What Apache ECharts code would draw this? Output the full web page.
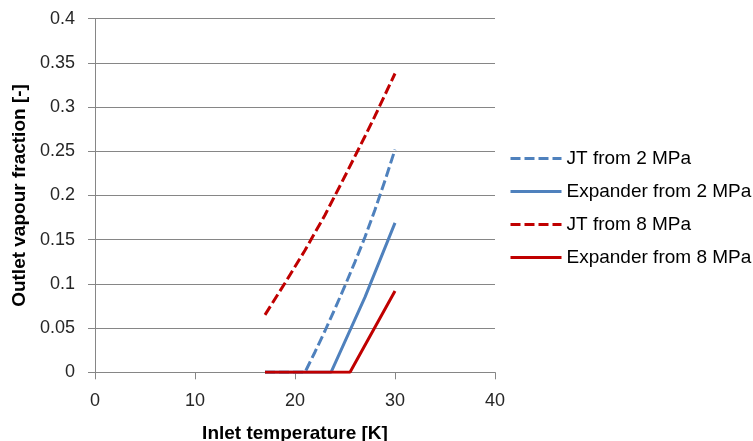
<!DOCTYPE html>
<html>
<head>
<meta charset="utf-8">
<script src="https://cdn.jsdelivr.net/npm/echarts@6/dist/echarts.min.js"></script>
<style>
  html, body { margin: 0; padding: 0; background: #fff; }
  #chart { width: 753px; height: 441px; }
</style>
</head>
<body>
<div id="chart"></div>
<script>
// inlet temperature [K] -> outlet vapour fraction [-]
const jt2Temp = [17, 21, 22, 23, 24, 25, 26, 27, 28, 29, 30]
const jt2Frac = [0, 0, 0.023, 0.047, 0.072, 0.098, 0.125, 0.153, 0.184, 0.217, 0.252]

const exp2Temp = [17, 23.6, 27, 30]
const exp2Frac = [0, 0, 0.085, 0.169]

const jt8Temp = [17, 19, 21, 23, 25, 27, 28, 29, 30]
const jt8Frac = [0.065, 0.101, 0.138, 0.178, 0.222, 0.267, 0.290, 0.314, 0.338]

const exp8Temp = [17, 25.5, 30]
const exp8Frac = [0, 0, 0.092]

const xTicks = [0, 10, 20, 30, 40]
const yTicks = [0, 0.05, 0.1, 0.15, 0.2, 0.25, 0.3, 0.35, 0.4]

const BLUE = '#4f81bd'
const RED = '#c00000'
const FONT = 'Liberation Sans'

const zip = (xs, ys) => xs.map((x, i) => [x, ys[i]])

const makeSeries = (name, xs, ys, color, dashed) => ({
  name,
  type: 'line',
  data: zip(xs, ys),
  symbol: 'none',
  smooth: false,
  lineStyle: { color, width: 3, type: dashed ? [10, 4] : 'solid' },
  itemStyle: { color }
})

const chart = echarts.init(document.getElementById('chart'))
chart.setOption({
  animation: false,
  textStyle: { fontFamily: FONT },
  grid: {
    left: 95, right: 258, top: 18.7, bottom: 68.7,
    containLabel: false,
    outerBoundsMode: 'none'
  },
  legend: {
    orient: 'vertical',
    left: 504,
    top: 144,
    itemWidth: 51,
    itemHeight: 20,
    itemGap: 14,
    itemStyle: { opacity: 0 },
    lineStyle: { width: 3 },
    textStyle: { fontFamily: FONT, fontSize: 19, color: '#000' },
    data: ['JT from 2 MPa', 'Expander from 2 MPa', 'JT from 8 MPa', 'Expander from 8 MPa']
  },
  xAxis: {
    type: 'value',
    min: xTicks[0],
    max: xTicks[xTicks.length - 1],
    interval: 10,
    name: 'Inlet temperature [K]',
    nameLocation: 'middle',
    nameGap: 52,
    nameTextStyle: { fontFamily: FONT, fontSize: 19, fontWeight: 'bold', color: '#000' },
    axisLine: { show: true, lineStyle: { color: '#868686', width: 1 } },
    axisTick: { show: true, length: 7, lineStyle: { color: '#868686' } },
    axisLabel: { fontSize: 18, color: '#262626', margin: 20 },
    splitLine: { show: false }
  },
  yAxis: {
    type: 'value',
    min: yTicks[0],
    max: yTicks[yTicks.length - 1],
    interval: 0.05,
    name: 'Outlet vapour fraction [-]',
    nameLocation: 'middle',
    nameGap: 64,
    nameTextStyle: { fontFamily: FONT, fontSize: 19, fontWeight: 'bold', color: '#000' },
    axisLine: { show: true, lineStyle: { color: '#868686', width: 1 } },
    axisTick: { show: true, length: 7, lineStyle: { color: '#868686' } },
    axisLabel: { fontSize: 18, color: '#262626', margin: 20 },
    splitLine: { show: true, lineStyle: { color: '#868686', width: 1 } }
  },
  series: [
    makeSeries('JT from 2 MPa', jt2Temp, jt2Frac, BLUE, true),
    makeSeries('Expander from 2 MPa', exp2Temp, exp2Frac, BLUE, false),
    makeSeries('JT from 8 MPa', jt8Temp, jt8Frac, RED, true),
    makeSeries('Expander from 8 MPa', exp8Temp, exp8Frac, RED, false)
  ]
})
</script>
</body>
</html>
